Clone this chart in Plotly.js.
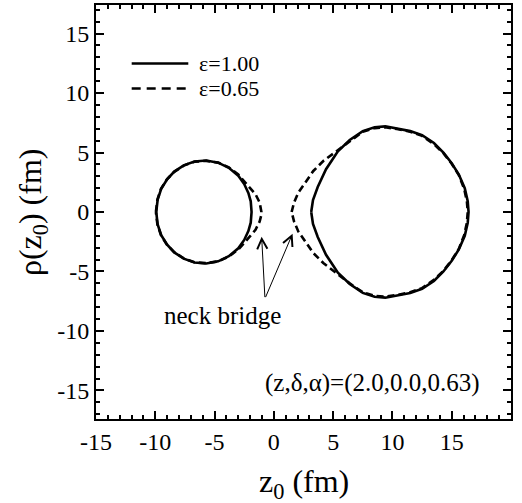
<!DOCTYPE html>
<html>
<head>
<meta charset="utf-8">
<script src="https://cdn.plot.ly/plotly-3.0.1.min.js"></script>
<style>html,body{margin:0;padding:0;background:#fff;}#plot{width:522px;height:503px;}</style>
</head>
<body>
<div id="plot"></div>
<script>
// ---- data (upper half rho >= 0; the shape is drawn as +rho and -rho) ----
// epsilon = 1.00 (solid)
const solidLeftZ   = [-9.92, -9.8, -9.5, -9.0, -8.4, -7.6, -6.7, -5.7, -4.7, -3.8, -3.0, -2.5, -2.15, -1.95, -1.88];
const solidLeftRho = [0, 1.05, 1.95, 2.75, 3.4, 3.92, 4.25, 4.33, 4.15, 3.72, 3.05, 2.35, 1.6, 0.9, 0];
const solidRightZ   = [3.15, 3.3, 3.7, 4.4, 5.4, 6.4, 7.5, 8.5, 9.4, 10.5, 11.5, 12.5, 13.5, 14.3, 15.0, 15.6, 16.1, 16.35, 16.42];
const solidRightRho = [0, 1.0, 2.1, 3.6, 5.1, 6.05, 6.8, 7.12, 7.2, 7.0, 6.8, 6.45, 5.8, 5.0, 4.1, 3.15, 2.0, 0.9, 0];
// epsilon = 0.65 (dashed)
const dashLeftZ   = [-9.95, -9.82, -9.52, -9.02, -8.4, -7.6, -6.7, -5.7, -4.7, -3.8, -3.0, -2.5, -2.0, -1.55, -1.2, -1.08, -1.05];
const dashLeftRho = [0, 1.05, 1.95, 2.75, 3.38, 3.9, 4.23, 4.3, 4.15, 3.75, 3.15, 2.6, 2.05, 1.5, 0.8, 0.35, 0];
const dashRightZ   = [1.5, 1.7, 2.06, 2.63, 3.33, 4.17, 5.2, 6.4, 7.5, 8.5, 9.4, 10.5, 11.5, 12.5, 13.5, 14.3, 15.0, 15.6, 16.05, 16.28, 16.35];
const dashRightRho = [0, 0.79, 1.63, 2.45, 3.45, 4.29, 5.05, 6.0, 6.75, 7.05, 7.12, 6.95, 6.75, 6.4, 5.7, 4.95, 4.05, 3.1, 1.95, 0.9, 0];

const seriesNames = ['ε=1.00', 'ε=0.65'];
const xTickVals = [-15, -10, -5, 0, 5, 10, 15, 20];
const xTickText = ['-15', '-10', '-5', '0', '5', '10', '15', '20'];
const yTickVals = [-15, -10, -5, 0, 5, 10, 15];
const yTickText = ['-15', '-10', '-5', '0', '5', '10', '15'];
const xTitle = 'z<sub>0</sub> (fm)';
const yTitle = 'ρ(z<sub>0</sub>) (fm)';

// annotation texts / points
const neckLabel = 'neck bridge';
const paramLabel = '(z,δ,α)=(2.0,0.0,0.63)';
const arrowTail = [-0.75, -7.28];
const arrowTips = [[-1.03, -2.07], [1.58, -1.82]];

// build closed contour (+rho then -rho back) for each fragment, fragments separated by null
function contour(zs, rs) {
  const x = zs.slice(), y = rs.slice();
  for (let i = zs.length - 1; i >= 0; i--) { x.push(zs[i]); y.push(-rs[i]); }
  return {x, y};
}
function series(lz, lr, rz, rr) {
  const a = contour(lz, lr), b = contour(rz, rr);
  return {x: a.x.concat([null], b.x), y: a.y.concat([null], b.y)};
}
const s1 = series(solidLeftZ, solidLeftRho, solidRightZ, solidRightRho);
const s2 = series(dashLeftZ, dashLeftRho, dashRightZ, dashRightRho);

const FONT = 'Liberation Serif';
const DASH_CURVE = '7px,4px';
const DASH_KEY = '9px,6px';

const traces = [
  {x: s1.x, y: s1.y, mode: 'lines', name: seriesNames[0], connectgaps: false, showlegend: false,
   line: {color: '#000', width: 2.6, dash: 'solid'}},
  {x: s2.x, y: s2.y, mode: 'lines', name: seriesNames[1], connectgaps: false, showlegend: false,
   line: {color: '#000', width: 2.6, dash: DASH_CURVE}}
];

const axisCommon = {
  showline: true, linewidth: 2, linecolor: '#000', mirror: 'ticks',
  ticks: 'inside', ticklen: 8, tickwidth: 2, tickcolor: '#000',
  showgrid: false, zeroline: false,
  tickfont: {family: FONT, size: 24, color: '#000'},
  minor: {ticks: 'inside', ticklen: 4, tickwidth: 2, tickcolor: '#000', dtick: 1, showgrid: false},
  tickmode: 'array'
};

// key (legend) placed in paper coordinates of the plot area
const keyX0 = 0.086, keyX1 = 0.2224, keyTextX = 0.2426;
const keyY = [0.8587, 0.7983];

const shapes = [
  {type: 'line', xref: 'paper', yref: 'paper', x0: keyX0, x1: keyX1, y0: keyY[0], y1: keyY[0],
   line: {color: '#000', width: 2.6, dash: 'solid'}},
  {type: 'line', xref: 'paper', yref: 'paper', x0: keyX0, x1: keyX1, y0: keyY[1], y1: keyY[1],
   line: {color: '#000', width: 2.6, dash: DASH_KEY}}
];

const annotations = [
  {x: keyTextX, y: keyY[0], xref: 'paper', yref: 'paper', text: seriesNames[0], showarrow: false,
   font: {family: FONT, size: 22, color: '#000'}, xanchor: 'left', yanchor: 'middle'},
  {x: keyTextX, y: keyY[1], xref: 'paper', yref: 'paper', text: seriesNames[1], showarrow: false,
   font: {family: FONT, size: 22, color: '#000'}, xanchor: 'left', yanchor: 'middle'},
  {x: arrowTips[0][0], y: arrowTips[0][1], ax: arrowTail[0], ay: arrowTail[1], axref: 'x', ayref: 'y',
   xref: 'x', yref: 'y', text: '', showarrow: true, arrowhead: 5, arrowsize: 2, arrowwidth: 1, arrowcolor: '#000', standoff: 0, startstandoff: 0},
  {x: arrowTips[1][0], y: arrowTips[1][1], ax: arrowTail[0], ay: arrowTail[1], axref: 'x', ayref: 'y',
   xref: 'x', yref: 'y', text: '', showarrow: true, arrowhead: 5, arrowsize: 2, arrowwidth: 1, arrowcolor: '#000', standoff: 0, startstandoff: 0},
  {x: -4.29, y: -8.74, xref: 'x', yref: 'y', text: neckLabel, showarrow: false,
   font: {family: FONT, size: 25, color: '#000'}, xanchor: 'center', yanchor: 'middle'},
  {x: 17.53, y: -14.34, xref: 'x', yref: 'y', text: paramLabel, showarrow: false,
   font: {family: FONT, size: 25, color: '#000'}, xanchor: 'right', yanchor: 'middle'},
  // axis titles
  {x: 0.5, y: -0.155, xref: 'paper', yref: 'paper', text: xTitle, showarrow: false,
   font: {family: FONT, size: 32, color: '#000'}, xanchor: 'center', yanchor: 'middle'},
  {x: -0.154, y: 0.5, xref: 'paper', yref: 'paper', text: yTitle, showarrow: false, textangle: -90,
   font: {family: FONT, size: 32, color: '#000'}, xanchor: 'center', yanchor: 'middle'}
];

const layout = {
  width: 522, height: 503,
  margin: {l: 96, r: 11, t: 5, b: 84},
  paper_bgcolor: '#fff', plot_bgcolor: '#fff',
  font: {family: FONT, color: '#000'},
  showlegend: false,
  xaxis: Object.assign({}, axisCommon, {range: [-15, 20], tickvals: xTickVals, ticktext: xTickText}),
  yaxis: Object.assign({}, axisCommon, {range: [-17.4, 17.4], tickvals: yTickVals, ticktext: yTickText}),
  shapes: shapes,
  annotations: annotations
};

Plotly.newPlot('plot', traces, layout, {displayModeBar: false, staticPlot: true});
</script>
</body>
</html>
